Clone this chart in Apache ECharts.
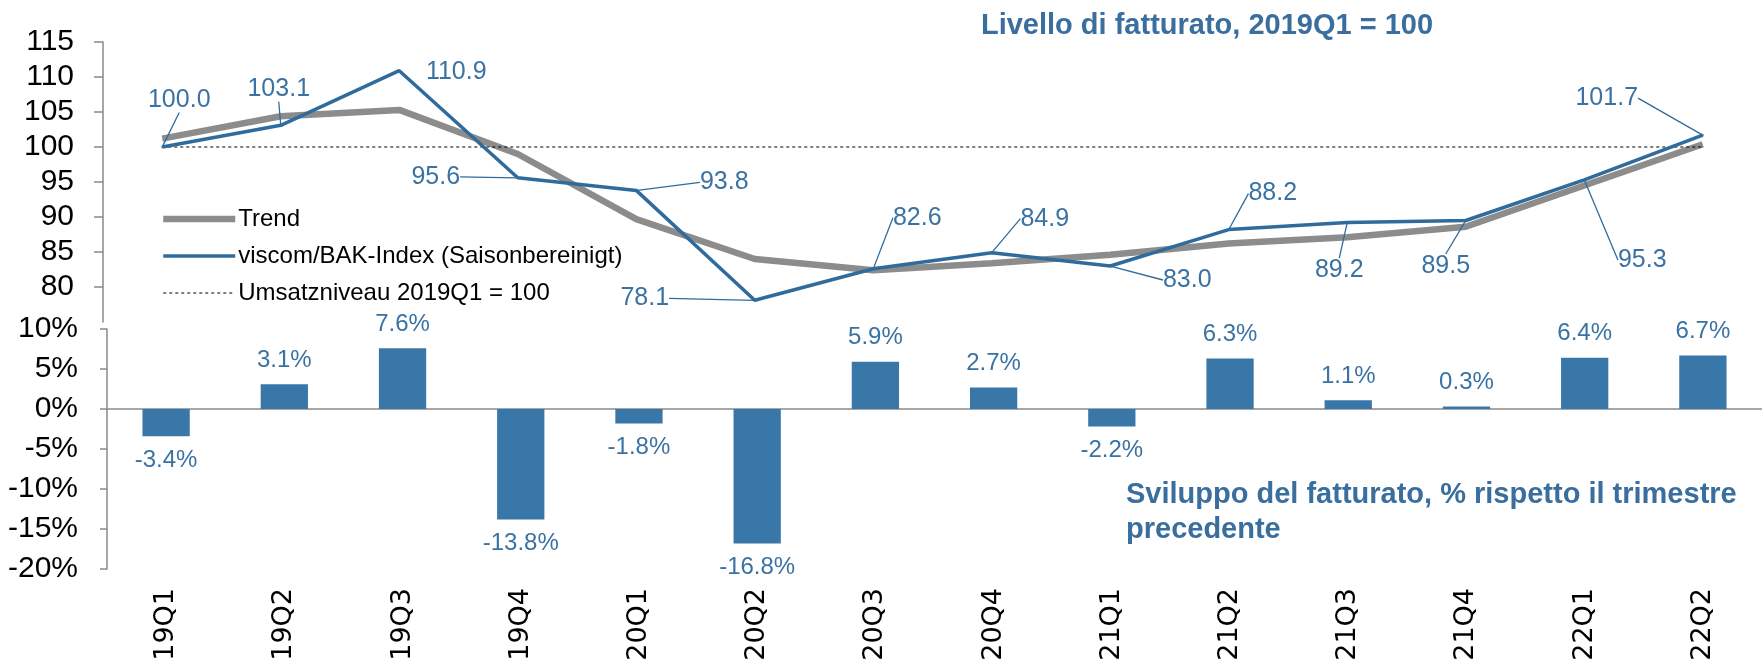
<!DOCTYPE html>
<html>
<head>
<meta charset="utf-8">
<script src="https://cdn.jsdelivr.net/npm/echarts@6/dist/echarts.min.js"></script>
<style>
  html, body { margin: 0; padding: 0; background: #fff; }
  #chart { width: 1762px; height: 665px; }
</style>
</head>
<body>
<div id="chart"></div>
<script>
// quarters
var categories = ['19Q1', '19Q2', '19Q3', '19Q4', '20Q1', '20Q2', '20Q3', '20Q4', '21Q1', '21Q2', '21Q3', '21Q4', '22Q1', '22Q2'];
// viscom/BAK index, seasonally adjusted
var indexValues = [100.0, 103.1, 110.9, 95.6, 93.8, 78.1, 82.6, 84.9, 83.0, 88.2, 89.2, 89.5, 95.3, 101.7];
// trend
var trendValues = [101.2, 104.4, 105.3, 99.0, 89.7, 84.0, 82.4, 83.4, 84.6, 86.2, 87.1, 88.6, 94.5, 100.4];
// reference level 2019Q1 = 100
var baseValues = [100, 100, 100, 100, 100, 100, 100, 100, 100, 100, 100, 100, 100, 100];
// quarter on quarter change, %
var pctValues = [-3.4, 3.1, 7.6, -13.8, -1.8, -16.8, 5.9, 2.7, -2.2, 6.3, 1.1, 0.3, 6.4, 6.7];
// tick labels
var levelTicks = [80, 85, 90, 95, 100, 105, 110, 115];
var pctTicks = [-20, -15, -10, -5, 0, 5, 10];

// where each index label sits relative to its point (px), like the excel leader lines
var labelOffsets = [
  [17, -47], [-2, -36], [57, 1], [-82, -1], [88, -8], [-110, -2], [44, -51],
  [53, -34], [77, 14], [44, -36], [-8, 48], [-20, 46], [58, 80], [-96, -37]
];
var noLeader = [2];

var blue = '#2f6b9c';
var labelBlue = '#3a72a3';
var barBlue = '#3a77a9';
var titleBlue = '#3a6e9e';
var grey = '#8c8c8c';
var axisGrey = '#8a8a8a';
var narrow = "'Liberation Sans Narrow', 'Liberation Sans', sans-serif";
var sans = "'Liberation Sans', Arial, sans-serif";

var chart = echarts.init(document.getElementById('chart'));

chart.setOption({
  animation: false,
  title: [
    {
      text: 'Livello di fatturato, 2019Q1 = 100',
      left: 1202, top: 6, textAlign: 'center',
      textStyle: { fontFamily: narrow, fontWeight: 'bold', fontSize: 29, color: titleBlue }
    },
    {
      text: 'Sviluppo del fatturato, % rispetto il trimestre\nprecedente',
      left: 1121, top: 472,
      textStyle: { fontFamily: narrow, fontWeight: 'bold', fontSize: 29, lineHeight: 35, color: titleBlue }
    }
  ],
  legend: {
    orient: 'vertical',
    left: 155, top: 202,
    itemWidth: 72, itemHeight: 14, itemGap: 13,
    itemStyle: { opacity: 0 },
    textStyle: { fontFamily: sans, fontSize: 24, color: '#000', padding: [0, 0, 0, -2] },
    data: [
      { name: 'Trend', lineStyle: { width: 6.5, color: grey } },
      { name: 'viscom/BAK-Index (Saisonbereinigt)', lineStyle: { width: 3.5, color: blue } },
      { name: 'Umsatzniveau 2019Q1 = 100', lineStyle: { width: 1.2, color: '#000', type: [3, 3] } }
    ]
  },
  grid: [
    { left: 103, top: 42, width: 1677, height: 280 },
    { left: 107, top: 329, width: 1662, height: 240 }
  ],
  xAxis: [
    { gridIndex: 0, type: 'category', data: categories, show: false },
    {
      gridIndex: 1, type: 'category', data: categories, position: 'bottom',
      axisLine: { onZero: true, lineStyle: { color: axisGrey, width: 1.5 } },
      axisTick: { length: 8, lineStyle: { color: axisGrey, width: 1.5 } },
      axisLabel: { show: false }
    },
    {
      gridIndex: 1, type: 'category', data: categories, position: 'bottom',
      axisLine: { show: false, onZero: false },
      axisTick: { show: false },
      axisLabel: { rotate: 90, margin: 19, fontFamily: 'DejaVu Sans', fontSize: 27, color: '#000' }
    }
  ],
  yAxis: [
    {
      gridIndex: 0, type: 'value', min: 75, max: 115, interval: 5,
      axisLine: { show: true, lineStyle: { color: axisGrey, width: 1.5 } },
      axisTick: { show: true, length: 9, customValues: levelTicks, lineStyle: { color: axisGrey, width: 1.5 } },
      axisLabel: { customValues: levelTicks, margin: 29, fontFamily: sans, fontSize: 30, color: '#000' },
      splitLine: { show: false }
    },
    {
      gridIndex: 1, type: 'value', min: -20, max: 10, interval: 5,
      axisLine: { show: true, lineStyle: { color: axisGrey, width: 1.5 } },
      axisTick: { show: true, length: 7, customValues: pctTicks, lineStyle: { color: axisGrey, width: 1.5 } },
      axisLabel: { customValues: pctTicks, formatter: '{value}%', margin: 29, fontFamily: sans, fontSize: 30, color: '#000' },
      splitLine: { show: false }
    }
  ],
  series: [
    {
      name: 'Trend', type: 'line', xAxisIndex: 0, yAxisIndex: 0,
      data: trendValues, symbol: 'none', z: 2,
      lineStyle: { color: grey, width: 6.5 }, itemStyle: { color: grey }
    },
    {
      name: 'viscom/BAK-Index (Saisonbereinigt)', type: 'line', xAxisIndex: 0, yAxisIndex: 0,
      data: indexValues.map(function (v, i) {
        return noLeader.indexOf(i) >= 0 ? { value: v, labelLine: { show: false } } : v;
      }),
      symbol: 'circle', symbolSize: 2, showSymbol: true, z: 4,
      lineStyle: { color: blue, width: 3.5 }, itemStyle: { color: blue },
      label: {
        show: true, position: 'inside',
        formatter: function (p) { return p.value.toFixed(1); },
        fontFamily: sans, fontSize: 25, color: labelBlue
      },
      labelLine: { show: true, lineStyle: { color: blue, width: 1.3 } },
      labelLayout: function (p) {
        var o = labelOffsets[p.dataIndex];
        return { dx: o[0], dy: o[1] };
      },
      emphasis: { disabled: true }
    },
    {
      name: 'Umsatzniveau 2019Q1 = 100', type: 'line', xAxisIndex: 0, yAxisIndex: 0,
      data: baseValues, symbol: 'none', z: 3,
      lineStyle: { color: '#000', width: 1.2, type: [3, 3] }, itemStyle: { color: '#000' }
    },
    {
      type: 'bar', xAxisIndex: 1, yAxisIndex: 1, barWidth: '40%',
      data: pctValues.map(function (v) {
        return { value: v, label: { position: v < 0 ? 'bottom' : 'top' } };
      }),
      itemStyle: { color: barBlue },
      label: {
        show: true, distance: 12,
        formatter: function (p) { return p.value.toFixed(1) + '%'; },
        fontFamily: sans, fontSize: 24, color: labelBlue
      },
      emphasis: { disabled: true }
    }
  ]
});
</script>
</body>
</html>
